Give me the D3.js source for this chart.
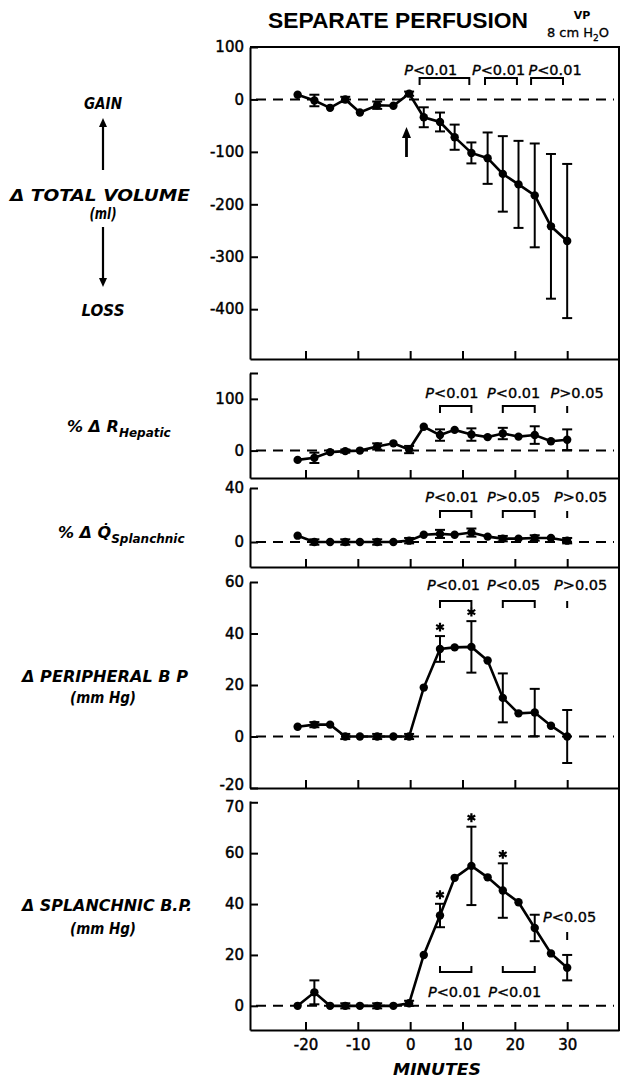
<!DOCTYPE html>
<html lang="en">
<head>
<meta charset="UTF-8">
<title>Separate Perfusion</title>
<script src="https://cdn.jsdelivr.net/npm/d3@7"></script>
<style>
  body { margin: 0; background: #fff; }
  svg { display: block; font-family: "DejaVu Sans", sans-serif; }
  .side { font-style: italic; font-weight: bold; font-size: 16px; }
  .plabel { font-size: 14.5px; stroke: #000; stroke-width: 0.35px; }
</style>
</head>
<body>
<svg id="chart" width="628" height="1078"></svg>
<script>
// sample times (minutes) shared by all five panels
const minutes = [-21.5, -18.3, -15.3, -12.4, -9.6, -6.3, -3.2, -0.2, 2.6, 5.7, 8.5, 11.7, 14.8, 17.7, 20.7, 23.8, 26.9, 30];
const xTicks = [-20, -10, 0, 10, 20, 30];

// delta total volume (ml)
const volume    = [9, -2, -16, 0, -25, -11, -12, 11, -34, -43, -72, -102, -112, -142, -162, -183, -242, -270];
const volumeErr = [null, 11, null, 5, null, 7, null, 4, 19, 18, 24, 20, 49, 72, 83, 99, 138, 147];
const volumeTicks = [100, 0, -100, -200, -300, -400];

// % delta R hepatic
const hepatic    = [-18, -14, -3, -1, 0, 8, 14, 2, 46, 30, 40, 31, 26, 33, 27, 30, 18, 21];
const hepaticErr = [null, 10, null, 3, null, 6, null, 7, null, 11, null, 12, null, 11, null, 17, null, 20];
const hepaticTicks = [150, 100, 0];
const hepaticTickLabels = ["", "100", "0"];

// % delta Q splanchnic
const qSplanchnic    = [4.7, 0, 0, 0, 0, 0, 0, 1, 5.4, 6, 5.4, 7, 4, 2.5, 2.5, 3, 3, 1];
const qSplanchnicErr = [null, 2, null, 2, null, 2, null, 2, null, 3, null, 3, null, 2, null, 2, null, 2];
const qSplanchnicTicks = [40, 0];

// delta peripheral BP (mm Hg)
const periphBP    = [3.8, 4.6, 4.6, 0, 0, 0, 0, 0, 19, 34, 34.6, 34.8, 29.5, 15, 9, 9.3, 4.2, 0];
const periphBPErr = [null, 1, null, 1, null, 1, null, 1, null, 5, null, 10, null, 9.5, null, 9.2, null, 10.3];
const periphBPTicks = [60, 40, 20, 0, -20];
const periphStars = [9, 11];

// delta splanchnic BP (mm Hg)
const splBP    = [0, 5.3, 0, 0, 0, 0, 0, 1, 20, 35.5, 50.3, 55, 50.5, 45.3, 40.7, 30.6, 20.6, 15];
const splBPErr = [null, 4.7, null, 1, null, 1, null, 1, null, 4.6, null, 15.4, null, 10.7, null, 5.2, null, 5];
const splBPTicks = [80, 60, 40, 20, 0];
const splBPTickLabels = ["70", "60", "40", "20", "0"];
const splStars = [9, 11, 13];

// significance brackets: [from, to] in minutes, plus single marks
const volumeBrackets = [[1.8, 11.3], [14.3, 20.4], [23.1, 29.2]];
const volumeP = ["<0.01", "<0.01", "<0.01"];
const hepaticBrackets = [[5.7, 11.7], [17.7, 23.8]];
const hepaticP = ["<0.01", "<0.01", ">0.05"];
const qBrackets = [[5.7, 11.7], [17.7, 23.8]];
const qP = ["<0.01", ">0.05", ">0.05"];
const periphBrackets = [[5.7, 11.7], [17.7, 23.8]];
const periphP = ["<0.01", "<0.05", ">0.05"];
const splBrackets = [[5.7, 11.7], [17.7, 23.8]];
const splP = ["<0.01", "<0.01", "<0.05"];

const svg = d3.select("#chart");
const left = 250, right = 619;
const x = d3.scaleLinear().domain([-30.6, 39.9]).range([left, right]);

const panels = [
  { v: volume, e: volumeErr, domain: [-495, 100], range: [359, 47], ticks: volumeTicks, tickLabels: volumeTicks.map(String),
    brackets: volumeBrackets, singles: [], pText: volumeP, pAt: [-1.15, 11.8, 22.6], bracketY: 31, labelY: 28, top: true },
  { v: hepatic, e: hepaticErr, domain: [-53, 150], range: [478, 373], ticks: hepaticTicks, tickLabels: hepaticTickLabels,
    brackets: hepaticBrackets, singles: [30], pText: hepaticP, pAt: [2.9, 14.7, 26.8], bracketY: 33, labelY: 25 },
  { v: qSplanchnic, e: qSplanchnicErr, domain: [-18.5, 40], range: [567, 488], ticks: qSplanchnicTicks, tickLabels: qSplanchnicTicks.map(String),
    brackets: qBrackets, singles: [30], pText: qP, pAt: [2.9, 14.7, 27.5], bracketY: 23, labelY: 14 },
  { v: periphBP, e: periphBPErr, domain: [-20, 60], range: [788, 582], ticks: periphBPTicks, tickLabels: periphBPTicks.map(String),
    brackets: periphBrackets, singles: [30], pText: periphP, pAt: [3.2, 14.7, 27.5], bracketY: 19, labelY: 8, stars: periphStars },
  { v: splBP, e: splBPErr, domain: [-9.5, 80.5], range: [1030, 801], ticks: splBPTicks, tickLabels: splBPTickLabels,
    stars: splStars, bottom: true }
];

panels.forEach((p, pi) => {
  const y = d3.scaleLinear().domain(p.domain).range(p.range);
  const g = svg.append("g");
  const y0 = p.range[0], yTop = p.range[1];

  // left axis, ticks pointing in
  const ax = g.append("g").attr("transform", `translate(${left},0)`)
    .call(d3.axisLeft(y).tickValues(p.ticks).tickSize(-8).tickSizeOuter(0).tickPadding(6)
      .tickFormat((d, i) => p.tickLabels[i]));
  ax.selectAll("path,line").attr("stroke", "#000").attr("stroke-width", 2);
  ax.selectAll("text").attr("font-size", 15).attr("font-family", "DejaVu Sans").attr("fill", "#000")
    .attr("stroke", "#000").attr("stroke-width", 0.45);
  // keep the -20 / 70 labels of panels 4 and 5 apart
  if (pi === 3) ax.selectAll("text").filter(d => d === -20).attr("dy", "0.1em");
  if (pi === 4) ax.selectAll("text").filter(d => d === 80).attr("dy", "0.6em");

  // bottom axis, ticks pointing in
  const bx = g.append("g").attr("transform", `translate(0,${y0})`)
    .call(d3.axisBottom(x).tickValues(xTicks).tickSize(-8).tickSizeOuter(0).tickPadding(9)
      .tickFormat(p.bottom ? d => String(d).replace("-", "-") : ""));
  bx.selectAll("path,line").attr("stroke", "#000").attr("stroke-width", 2);
  bx.selectAll("text").attr("font-size", 15).attr("font-family", "DejaVu Sans").attr("fill", "#000")
    .attr("stroke", "#000").attr("stroke-width", 0.45);

  if (p.top) {
    g.append("line").attr("x1", left).attr("x2", right).attr("y1", yTop).attr("y2", yTop)
      .attr("stroke", "#000").attr("stroke-width", 2);
  }

  // zero reference
  g.append("line").attr("x1", left + 6).attr("x2", right - 5).attr("y1", y(0)).attr("y2", y(0))
    .attr("stroke", "#000").attr("stroke-width", 2).attr("stroke-dasharray", "10,7");

  const pts = minutes.map((m, i) => ({ m, v: p.v[i], e: p.e[i], i }));

  // error bars
  const eb = g.selectAll(".err").data(pts.filter(d => d.e != null)).enter().append("g");
  eb.append("line").attr("x1", d => x(d.m)).attr("x2", d => x(d.m))
    .attr("y1", d => y(d.v - d.e)).attr("y2", d => y(d.v + d.e));
  eb.append("line").attr("x1", d => x(d.m) - 5).attr("x2", d => x(d.m) + 5)
    .attr("y1", d => y(d.v + d.e)).attr("y2", d => y(d.v + d.e));
  eb.append("line").attr("x1", d => x(d.m) - 5).attr("x2", d => x(d.m) + 5)
    .attr("y1", d => y(d.v - d.e)).attr("y2", d => y(d.v - d.e));
  eb.selectAll("line").attr("stroke", "#000").attr("stroke-width", 2);

  g.append("path").datum(pts)
    .attr("d", d3.line().x(d => x(d.m)).y(d => y(d.v)))
    .attr("fill", "none").attr("stroke", "#000").attr("stroke-width", 2.6);

  g.selectAll(".pt").data(pts).enter().append("circle")
    .attr("cx", d => x(d.m)).attr("cy", d => y(d.v)).attr("r", 4.2).attr("fill", "#000");

  (p.stars || []).forEach(i => {
    g.append("path").attr("d", d3.symbol(d3.symbolAsterisk, 55)())
      .attr("transform", `translate(${x(minutes[i])},${y(p.v[i] + p.e[i]) - 9})`)
      .attr("stroke", "#000").attr("stroke-width", 2.2).attr("fill", "none");
  });

  // significance brackets above the curve
  if (p.brackets) {
    const by = yTop + p.bracketY;
    p.brackets.forEach(([a, b]) => {
      g.append("path")
        .attr("d", `M${x(a)},${by + 7}V${by}H${x(b)}V${by + 7}`)
        .attr("fill", "none").attr("stroke", "#000").attr("stroke-width", 2);
    });
    p.singles.forEach(s => {
      g.append("line").attr("x1", x(s)).attr("x2", x(s)).attr("y1", by).attr("y2", by + 7)
        .attr("stroke", "#000").attr("stroke-width", 2);
    });
    p.pText.forEach((t, i) => {
      const tx = g.append("text").attr("class", "plabel").attr("x", x(p.pAt[i])).attr("y", yTop + p.labelY);
      tx.append("tspan").attr("font-style", "italic").text("P");
      tx.append("tspan").text(t);
    });
  }
});

// bottom panel: brackets sit below the curve
{
  const by = 972;
  splBrackets.forEach(([a, b]) => {
    svg.append("path").attr("d", `M${x(a)},${by - 6}V${by}H${x(b)}V${by - 6}`)
      .attr("fill", "none").attr("stroke", "#000").attr("stroke-width", 2);
  });
  [3.4, 14.9].forEach((m, i) => {
    const tx = svg.append("text").attr("class", "plabel").attr("x", x(m)).attr("y", 997);
    tx.append("tspan").attr("font-style", "italic").text("P");
    tx.append("tspan").text(splP[i]);
  });
  const tx = svg.append("text").attr("class", "plabel").attr("x", x(25.4)).attr("y", 922);
  tx.append("tspan").attr("font-style", "italic").text("P");
  tx.append("tspan").text(splP[2]);
  svg.append("line").attr("x1", x(30)).attr("x2", x(30)).attr("y1", 932).attr("y2", 940)
    .attr("stroke", "#000").attr("stroke-width", 2);
}

// right frame line running through all panels
svg.append("line").attr("x1", right).attr("x2", right).attr("y1", 46).attr("y2", 1031)
  .attr("stroke", "#000").attr("stroke-width", 2);

// arrow marking start of perfusion
const ax0 = x(-0.7);
svg.append("line").attr("x1", ax0).attr("x2", ax0).attr("y1", 157).attr("y2", 135)
  .attr("stroke", "#000").attr("stroke-width", 2.8);
svg.append("path").attr("d", `M${ax0 - 4.5},${138}L${ax0},${127}L${ax0 + 4.5},${138}Z`).attr("fill", "#000");

// title
svg.append("text").attr("x", 398).attr("y", 28).attr("text-anchor", "middle")
  .attr("font-family", "Liberation Sans, Arial, sans-serif").attr("font-weight", "bold").attr("font-size", 22)
  .attr("textLength", 260).attr("lengthAdjust", "spacingAndGlyphs").text("SEPARATE PERFUSION");
svg.append("text").attr("x", 582).attr("y", 19).attr("text-anchor", "middle").attr("font-size", 11)
  .attr("font-weight", "bold").text("VP");
const h2o = svg.append("text").attr("x", 578).attr("y", 37).attr("text-anchor", "middle").attr("font-size", 13)
  .attr("stroke", "#000").attr("stroke-width", 0.3);
h2o.append("tspan").text("8 cm H");
h2o.append("tspan").attr("font-size", 9).attr("dy", 4).text("2");
h2o.append("tspan").attr("dy", -4).text("O");

// left-side labels
function side(txt, cx, by, len) {
  const t = svg.append("text").attr("class", "side").attr("x", cx).attr("y", by).attr("text-anchor", "middle").text(txt);
  if (len) t.attr("textLength", len).attr("lengthAdjust", "spacingAndGlyphs");
  return t;
}
side("GAIN", 103, 109, 38);
side("\u0394 TOTAL VOLUME", 100, 201, 180);
side("(ml)", 103, 219, 27);
side("LOSS", 103, 316, 43);
side("\u0394 PERIPHERAL B P", 105, 682, 166);
side("(mm Hg)", 103, 703, 66);
side("\u0394 SPLANCHNIC B.P.", 107, 911, 170);
side("(mm Hg)", 103, 934, 66);
side("MINUTES", 437, 1075, 88).attr("font-size", 17);

function arrow(x0, yFrom, yTo) {
  const dir = yTo < yFrom ? 1 : -1;
  svg.append("line").attr("x1", x0).attr("x2", x0).attr("y1", yFrom).attr("y2", yTo + dir * 6)
    .attr("stroke", "#000").attr("stroke-width", 2.2);
  svg.append("path").attr("d", `M${x0 - 4},${yTo + dir * 9}L${x0},${yTo}L${x0 + 4},${yTo + dir * 9}Z`).attr("fill", "#000");
}
arrow(103, 170, 118);
arrow(103, 227, 287);

const rh = svg.append("text").attr("class", "side").attr("x", 67).attr("y", 432).attr("font-size", 15);
rh.append("tspan").text("% \u0394 R");
rh.append("tspan").attr("font-size", 12).attr("dy", 5).text("Hepatic");

const qs = svg.append("text").attr("class", "side").attr("x", 58).attr("y", 538).attr("font-size", 15);
qs.append("tspan").text("% \u0394 Q\u0307");
qs.append("tspan").attr("font-size", 12).attr("dy", 5).text("Splanchnic");
</script>
</body>
</html>
